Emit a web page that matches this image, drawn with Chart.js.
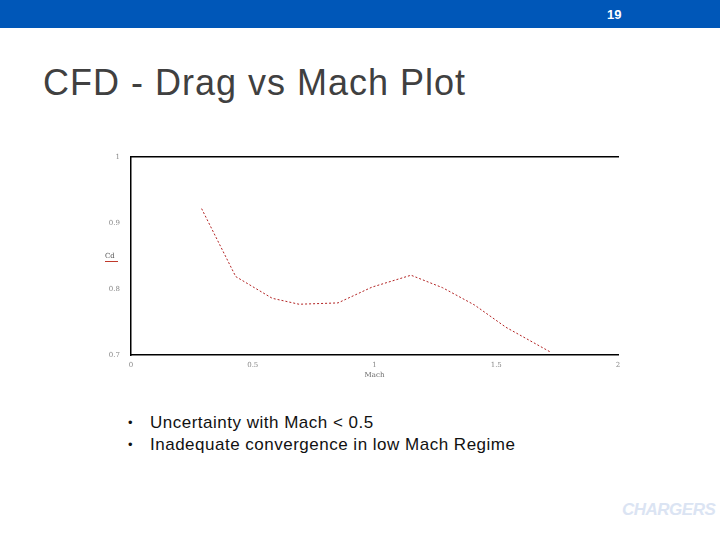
<!DOCTYPE html>
<html>
<head>
<meta charset="utf-8">
<script src="https://cdn.jsdelivr.net/npm/chart.js@4.4.1/dist/chart.umd.min.js"></script>
<style>
  body { margin: 0; width: 720px; height: 540px; background: #fff; position: relative; overflow: hidden; font-family: "Liberation Sans", Arial, sans-serif; }
  #topbar { position: absolute; left: 0; top: 0; width: 720px; height: 28px; background: #0057b8; }
  #pageNum { position: absolute; left: 607px; top: 7px; color: #fff; font-weight: bold; font-size: 13px; }
  #title { position: absolute; left: 43px; top: 62px; font-size: 36px; letter-spacing: 1px; color: #404040; white-space: nowrap; }
  #chartBox { position: absolute; left: 100px; top: 150px; width: 530px; height: 235px; }
  #legendCd { position: absolute; left: 105px; top: 252px; font-family: "DejaVu Serif", serif; font-size: 7px; color: #555; }
  #legendCd span { display: block; width: 13px; border-top: 1px solid #c0392b; margin-top: 1px; }
  .bullets { position: absolute; left: 128px; top: 412px; font-size: 17px; letter-spacing: 0.5px; color: #111; line-height: 22px; white-space: nowrap; }
  .bullets div { position: relative; padding-left: 22px; }
  .bullets div:before { content: "\2022"; position: absolute; left: 0; font-size: 13px; }
  #logo { position: absolute; left: 622px; top: 500px; font-size: 17px; font-weight: bold; font-style: italic; color: #dbe4f3; letter-spacing: -0.5px; }
</style>
</head>
<body>
<div id="topbar"><div id="pageNum">19</div></div>
<div id="title">CFD - Drag vs Mach Plot</div>
<div id="chartBox"><canvas id="dragChart"></canvas></div>
<div id="legendCd">Cd<span></span></div>
<div class="bullets">
  <div>Uncertainty with Mach &lt; 0.5</div>
  <div>Inadequate convergence in low Mach Regime</div>
</div>
<div id="logo">CHARGERS</div>

<script>
// ===== DATA =====
const machValues = [0.29, 0.43, 0.58, 0.69, 0.85, 0.99, 1.15, 1.28, 1.41, 1.54, 1.72];
const cdValues   = [0.922, 0.819, 0.786, 0.777, 0.779, 0.803, 0.821, 0.802, 0.776, 0.742, 0.705];
const machTicks  = [0, 0.5, 1, 1.5, 2];
const cdTicks    = [0.7, 0.8, 0.9, 1];

const points = machValues.map((m, i) => ({ x: m, y: cdValues[i] }));
const tickFont = { family: '"DejaVu Serif", serif', size: 7 };

new Chart(document.getElementById('dragChart'), {
    type: 'scatter',
    data: {
        datasets: [{
            label: 'Cd',
            data: points,
            showLine: true,
            borderColor: '#b22222',
            borderWidth: 1,
            borderDash: [2, 2],
            pointRadius: 0,
            tension: 0
        }]
    },
    options: {
        responsive: true,
        maintainAspectRatio: false,
        animation: false,
        layout: { padding: { top: 7, right: 12, bottom: 6 } },
        plugins: { legend: { display: false }, tooltip: { enabled: false } },
        scales: {
            x: {
                type: 'linear',
                min: 0, max: 2,
                afterBuildTicks: axis => { axis.ticks = machTicks.map(v => ({ value: v })); },
                afterFit: axis => { axis.height = 24; },
                grid: { display: false },
                border: { display: true, color: '#000', width: 1.5 },
                ticks: { font: tickFont, color: '#888', padding: -2, maxRotation: 0,
                         callback: v => String(v) },
                title: { display: true, text: 'Mach', font: { family: '"DejaVu Serif", serif', size: 7 },
                         color: '#666', padding: 0 }
            },
            xTop: {
                type: 'linear', position: 'top',
                min: 0, max: 2,
                afterFit: axis => { axis.height = 0; },
                grid: { display: false },
                ticks: { display: false },
                border: { display: true, color: '#000', width: 1.5 }
            },
            y: {
                type: 'linear',
                min: 0.7, max: 1,
                afterBuildTicks: axis => { axis.ticks = cdTicks.map(v => ({ value: v })); },
                afterFit: axis => { axis.width = 31; },
                grid: { display: false },
                border: { display: true, color: '#000', width: 1.5 },
                ticks: { font: tickFont, color: '#888', padding: 3,
                         callback: v => String(Math.round(v * 10) / 10) }
            }
        }
    }
});
</script>
</body>
</html>
